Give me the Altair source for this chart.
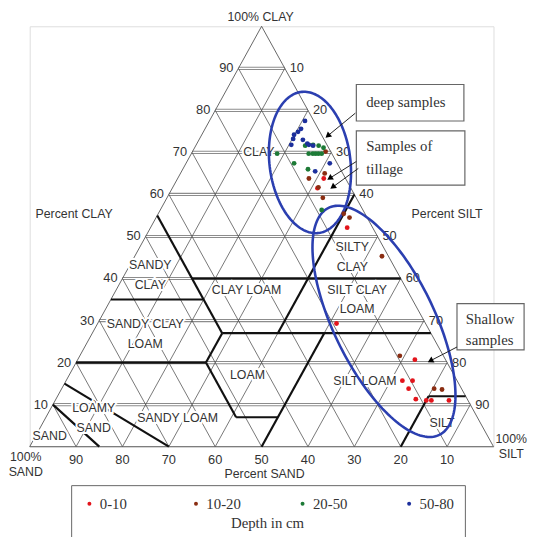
import altair as alt
import pandas as pd
import numpy as np

# ---------------- data (clay %, silt %) ----------------
depth_classes = ["0-10", "10-20", "20-50", "50-80"]
depth_colors = ["#e3141b", "#8a2d12", "#1d7a36", "#1c2f9c"]

clay_0_10 = [63.8, 61.5, 52.1, 29.3, 20.7, 15.7, 15.7, 13.8, 11.3, 11.0, 11.0, 11.0]
silt_0_10 = [31.5, 31.3, 42.4, 51.5, 72.7, 72.5, 74.7, 74.8, 77.6, 80.0, 81.1, 84.9]

clay_10_20 = [70.2, 65.0, 63.8, 61.7, 59.2, 55.4, 54.5, 45.3, 21.6, 13.8, 13.6]
silt_10_20 = [28.7, 31.1, 28.3, 31.4, 33.6, 40.0, 41.7, 53.3, 69.0, 80.3, 82.1]

clay_20_50 = [69.7, 67.4, 71.6, 71.8, 71.6, 71.1, 69.7, 69.7, 69.7, 69.7, 69.7, 66.0, 56.3]
silt_20_50 = [18.5, 23.3, 23.6, 25.2, 26.5, 27.8, 25.3, 26.2, 26.8, 27.4, 28.1, 27.0, 34.8]

clay_50_80 = [77.5, 75.6, 74.9, 74.2, 73.2, 71.8, 73.0, 72.1, 71.8, 71.6, 67.4, 65.5]
silt_50_80 = [20.6, 20.7, 20.4, 19.9, 20.2, 20.5, 22.4, 23.8, 24.3, 25.3, 31.0, 28.8]

tick_values = [10, 20, 30, 40, 50, 60, 70, 80, 90]

class_names = ["CLAY", "SILTY\nCLAY", "SANDY\nCLAY", "CLAY LOAM", "SILT CLAY\nLOAM",
               "SANDY CLAY\nLOAM", "LOAM", "SILT LOAM", "LOAMY\nSAND", "SANDY LOAM",
               "SAND", "SILT"]
class_clay = [70.2, 45.1, 40.8, 37.3, 35.0, 26.8, 17.1, 15.7, 6.8, 6.8, 2.6, 5.6]
class_silt = [14.3, 47.0, 5.6, 28.1, 53.1, 11.5, 38.4, 64.4, 10.4, 28.5, 3.0, 86.1]

# USDA texture class boundaries: ((clay, silt), (clay, silt))
boundaries = [
    ((10, 0), (0, 15)), ((15, 0), (0, 30)),
    ((20, 0), (20, 28)), ((20, 28), (27, 28)), ((20, 28), (7, 41)),
    ((7, 41), (7, 50)), ((0, 50), (27, 50)), ((27, 28), (27, 73)),
    ((27, 28), (55, 0)), ((35, 0), (35, 20)), ((40, 15), (40, 60)),
    ((60, 40), (27, 40)), ((0, 80), (12, 80)), ((12, 80), (12, 88)),
]

# ---------------- geometry ----------------
W, H = 470, 426
SX, SY = W / 100.0, H / 100.0
PX0, PY0 = 30, 23  # page position of plot origin


def tx(clay, silt):
    return silt + clay / 2.0


def u(px, py):
    return (px - PX0) / SX, (PY0 + H - py) / SY


def seg_df(segs):
    rows = []
    for (c1, s1), (c2, s2) in segs:
        rows.append(dict(x=tx(c1, s1), y=c1, x2=tx(c2, s2), y2=c2))
    return pd.DataFrame(rows)


def split_lines(xs, ys, texts, line_px):
    rows = []
    for x, y, t in zip(xs, ys, texts):
        parts = t.split("\n")
        n = len(parts)
        for i, p in enumerate(parts):
            off = (i - (n - 1) / 2.0) * line_px
            rows.append(dict(x=x, y=y - off / SY, text=p))
    return pd.DataFrame(rows)


XS = alt.Scale(domain=[0, 100], nice=False, zero=False)
YS = alt.Scale(domain=[0, 100], nice=False, zero=False)
XE = alt.X("x:Q", scale=XS, axis=None)
YE = alt.Y("y:Q", scale=YS, axis=None)


def rules(df, color, width):
    return alt.Chart(df).mark_rule(color=color, strokeWidth=width).encode(
        x=XE, y=YE, x2="x2:Q", y2="y2:Q")


# grid
h_segs = [((t, 0), (t, 100 - t)) for t in tick_values]
d_segs = [((0, t), (100 - t, t)) for t in tick_values] + \
         [((0, 100 - t), (100 - t, 0)) for t in tick_values]
edges = [((0, 0), (100, 0)), ((0, 100), (100, 0)), ((0, 0), (0, 100))]

layers = []
layers.append(rules(seg_df(h_segs), "#8c8c8c", 3.2))
layers.append(rules(seg_df(h_segs), "#ffffff", 1.1))
layers.append(rules(seg_df(d_segs), "#555555", 0.8))
layers.append(rules(seg_df(edges), "#555555", 0.9))
layers.append(rules(seg_df(boundaries), "#111111", 2.2))

# tick labels
lab_rows = []
for t in tick_values:
    lab_rows.append(dict(x=tx(t, 0), y=t, text=str(t), side="L"))
    lab_rows.append(dict(x=tx(100 - t, t), y=100 - t, text=str(t), side="R"))
    lab_rows.append(dict(x=tx(0, 100 - t), y=0, text=str(t), side="B"))
lab = pd.DataFrame(lab_rows)
font = "Liberation Sans"
for side, kw in [("L", dict(align="right", dx=-5, baseline="middle")),
                 ("R", dict(align="left", dx=5, baseline="middle")),
                 ("B", dict(align="center", dy=14, baseline="middle"))]:
    layers.append(alt.Chart(lab[lab.side == side]).mark_text(
        font=font, fontSize=13, color="#333333", **kw).encode(x=XE, y=YE, text="text:N"))

# axis titles
title_pos = [(264, 14, "100% CLAY"), (75, 213, "Percent CLAY"), (453, 213, "Percent SILT"),
             (268, 477, "Percent SAND"), (26, 467, "100%\nSAND"), (518, 449, "100%\nSILT")]
tdf = split_lines([u(p[0], p[1])[0] for p in title_pos], [u(p[0], p[1])[1] for p in title_pos],
                  [p[2] for p in title_pos], 15)
layers.append(alt.Chart(tdf).mark_text(font=font, fontSize=12.5, color="#333333",
                                       baseline="middle").encode(x=XE, y=YE, text="text:N"))

# class labels with white halo
cls = split_lines([tx(c, s) for c, s in zip(class_clay, class_silt)], class_clay, class_names, 20)
layers.append(alt.Chart(cls).mark_text(font=font, fontSize=12.5, color="white", stroke="white",
                                       strokeWidth=4, baseline="middle").encode(
    x=XE, y=YE, text="text:N"))
layers.append(alt.Chart(cls).mark_text(font=font, fontSize=12.5, color="#333333",
                                       baseline="middle").encode(x=XE, y=YE, text="text:N"))


# ellipses (annotation outlines)
def ellipse(cx, cy, a, b, ang_deg, gid, n=160):
    t = np.linspace(0, 2 * np.pi, n)
    ca, sa = np.cos(np.radians(ang_deg)), np.sin(np.radians(ang_deg))
    px = cx + a * np.cos(t) * ca - b * np.sin(t) * sa
    py = cy + a * np.cos(t) * sa + b * np.sin(t) * ca
    xs, ys = u(px, py)
    return pd.DataFrame(dict(x=xs, y=ys, i=np.arange(n), g=gid))


ell = pd.concat([ellipse(314, 161, 72, 41, 83, "a"), ellipse(389, 322, 128, 51, 64, "b")])
layers.append(alt.Chart(ell).mark_line(color="#2b3fb0", strokeWidth=2.6).encode(
    x=XE, y=YE, detail="g:N", order="i:Q"))

# points
pts = []
for name, cl, sl in [("0-10", clay_0_10, silt_0_10), ("10-20", clay_10_20, silt_10_20),
                     ("20-50", clay_20_50, silt_20_50), ("50-80", clay_50_80, silt_50_80)]:
    for c, s in zip(cl, sl):
        pts.append(dict(x=tx(c, s), y=c, depth=name))
pts = pd.DataFrame(pts)
layers.append(alt.Chart(pts).mark_circle(size=24, opacity=1).encode(
    x=XE, y=YE,
    color=alt.Color("depth:N", scale=alt.Scale(domain=depth_classes, range=depth_colors),
                    legend=alt.Legend(title="Depth in cm", orient="none", legendX=42, legendY=465,
                                      direction="horizontal", columns=4, columnPadding=55,
                                      gridAlign="all", titleOrient="bottom", titleAnchor="middle",
                                      titleFont="Liberation Serif", titleFontSize=15,
                                      titleFontWeight="normal", titleColor="#333333",
                                      labelFont="Liberation Serif", labelFontSize=15,
                                      labelColor="#333333", symbolType="circle", symbolSize=16,
                                      strokeColor="#666666", fillColor="white", padding=11,
                                      labelOffset=3, titlePadding=4, labelLimit=80))))

# annotation boxes
boxes = []
for (x1, y1, x2, y2) in [(361, 82, 470, 119), (361, 129, 471, 184), (463, 304, 531, 351)]:
    a1, b1 = u(x1, y1)
    a2, b2 = u(x2, y2)
    boxes.append(dict(x=a1, y=b1, x2=a2, y2=b2))
layers.append(alt.Chart(pd.DataFrame(boxes)).mark_rect(fill="white", stroke="#666666",
                                                       strokeWidth=1.2).encode(
    x=XE, y=YE, x2="x2:Q", y2="y2:Q"))
notes = []
for txt, px, py in [("deep samples", 371, 100), ("Samples of", 371, 144), ("tillage", 371, 168),
                    ("Shallow", 472, 320), ("samples", 472, 341)]:
    a, b = u(px, py)
    notes.append(dict(x=a, y=b, text=txt))
layers.append(alt.Chart(pd.DataFrame(notes)).mark_text(
    font="Liberation Serif", fontSize=15, color="#333333", align="left", baseline="middle").encode(
    x=XE, y=YE, text="text:N"))

# arrows
arr = []
heads = []
for (sx, sy, ex, ey) in [(360, 111, 332, 134), (361, 160, 334, 177), (363, 167, 337, 186),
                         (463, 348, 436, 362)]:
    a1, b1 = u(sx, sy)
    a2, b2 = u(ex, ey)
    arr.append(dict(x=a1, y=b1, x2=a2, y2=b2))
    ang = (np.degrees(np.arctan2(ex - sx, -(ey - sy))) + 360) % 360
    heads.append(dict(x=a2, y=b2, ang=ang))
layers.append(rules(pd.DataFrame(arr), "#222222", 1.0))
layers.append(alt.Chart(pd.DataFrame(heads)).mark_point(shape="triangle-up", filled=True,
                                                         size=45, color="#000000", opacity=1).encode(
    x=XE, y=YE, angle=alt.Angle("ang:Q", scale=None)))

chart = alt.layer(*layers).properties(
    width=W, height=H,
    padding={"left": 22, "top": 15, "right": 38, "bottom": 88},
    autosize=alt.AutoSizeParams(type="none"),
).configure_view(stroke=None).configure(background="white")

chart.save("out.html", embed_options={"renderer": "svg", "actions": False})
